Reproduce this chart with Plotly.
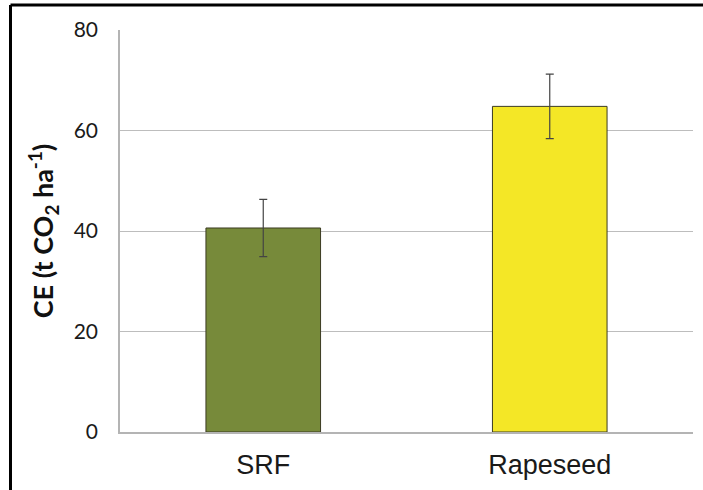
import plotly.graph_objects as go

categories = ["SRF", "Rapeseed"]
values = [40.6, 64.8]
errors = [5.7, 6.4]
colors = ["#778a3a", "#f4e726"]
y_ticks = [0, 20, 40, 60, 80]

fig = go.Figure()
fig.add_trace(go.Bar(
    x=categories, y=values,
    marker=dict(color=colors, line=dict(color="#3b3b22", width=1)),
    error_y=dict(type="data", array=errors, visible=True, color="#444444", thickness=1.2, width=4),
    width=0.4,
))

fig.update_layout(
    width=703, height=490,
    margin=dict(l=120, r=10, t=30, b=58),
    paper_bgcolor="white", plot_bgcolor="white",
    showlegend=False,
    xaxis=dict(
        showline=True, linecolor="#b4b4b4", linewidth=1.5,
        tickfont=dict(family="Liberation Sans, Arial", size=27, color="#1a1a1a"),
        ticks="", showgrid=False, ticklabelstandoff=8,
    ),
    yaxis=dict(
        range=[0, 80], tickvals=y_ticks, showline=True, linecolor="#b4b4b4", linewidth=1.5,
        showgrid=True, gridcolor="#bdbdbd", gridwidth=1,
        tickfont=dict(family="Lato, Open Sans", size=21, color="#1a1a1a"),
        ticks="", ticklabelstandoff=16, zeroline=False,
        title=dict(text="<b>CE (t CO<sub>2</sub> ha<sup>-1</sup>)</b>",
                   font=dict(family="Lato, Open Sans", size=27, color="#111111"),
                   standoff=12),
    ),
    shapes=[
        dict(type="line", xref="paper", yref="paper", x0=(10.5-120)/573, x1=1.05,
             y0=(432-5)/402, y1=(432-5)/402, line=dict(color="black", width=3)),
        dict(type="line", xref="paper", yref="paper", x0=(10.5-120)/573, x1=(10.5-120)/573,
             y0=(432-5)/402, y1=-0.2, line=dict(color="black", width=3)),
    ],
)

fig.write_html("out.html", config={"displayModeBar": False},
               post_script="document.body.style.margin='0';document.body.style.overflow='hidden';")
